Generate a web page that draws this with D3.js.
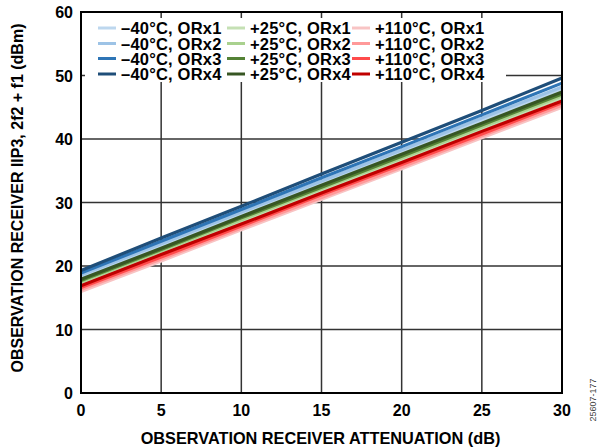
<!DOCTYPE html>
<html>
<head>
<meta charset="utf-8">
<script src="https://cdn.jsdelivr.net/npm/d3@7"></script>
<style>
  body { margin: 0; background: #fff; }
  text { font-family: "Liberation Sans", Arial, sans-serif; }
</style>
</head>
<body>
<div id="chart"></div>
<script>
// attenuation steps (dB)
const attenuation = [0, 5, 10, 15, 20, 25, 30];

// IIP3 values (dBm)
const seriesNames = [
    "–40°C, ORx1", "–40°C, ORx2", "–40°C, ORx3", "–40°C, ORx4",
    "+25°C, ORx1", "+25°C, ORx2", "+25°C, ORx3", "+25°C, ORx4",
    "+110°C, ORx1", "+110°C, ORx2", "+110°C, ORx3", "+110°C, ORx4"
];
const seriesColors = [
    "#bdd7ee", "#9dc3e6", "#2e75b6", "#1f4e79",
    "#c5e0b4", "#a9d18e", "#548235", "#375623",
    "#f8c4c4", "#ff9999", "#ff4b4b", "#c00000"
];
const m40_orx1 = [18.3, 23.2, 28.1, 33.0, 37.9, 42.9, 47.8];
const m40_orx2 = [18.6, 23.5, 28.5, 33.4, 38.3, 43.3, 48.2];
const m40_orx3 = [18.9, 23.9, 28.9, 33.9, 38.8, 43.8, 48.8];
const m40_orx4 = [19.3, 24.4, 29.4, 34.5, 39.5, 44.5, 49.6];
const p25_orx1 = [17.3, 22.2, 27.0, 31.9, 36.7, 41.6, 46.5];
const p25_orx2 = [17.5, 22.4, 27.3, 32.2, 37.0, 41.9, 46.8];
const p25_orx3 = [17.7, 22.6, 27.6, 32.4, 37.3, 42.2, 47.1];
const p25_orx4 = [17.9, 22.8, 27.8, 32.7, 37.6, 42.5, 47.4];
const p110_orx1 = [16.0, 20.8, 25.7, 30.5, 35.3, 40.2, 45.0];
const p110_orx2 = [16.3, 21.1, 26.0, 30.8, 35.6, 40.5, 45.3];
const p110_orx3 = [16.6, 21.4, 26.3, 31.2, 36.0, 40.8, 45.7];
const p110_orx4 = [16.9, 21.8, 26.6, 31.5, 36.3, 41.2, 46.0];
const seriesValues = [
    m40_orx1, m40_orx2, m40_orx3, m40_orx4,
    p25_orx1, p25_orx2, p25_orx3, p25_orx4,
    p110_orx1, p110_orx2, p110_orx3, p110_orx4
];

const xTicks = [0, 5, 10, 15, 20, 25, 30];
const yTicks = [0, 10, 20, 30, 40, 50, 60];

const width = 600, height = 448;
const margin = {left: 81, right: 38, top: 12, bottom: 55};

const svg = d3.select("#chart").append("svg")
    .attr("width", width)
    .attr("height", height);

const x = d3.scaleLinear().domain([0, 30]).range([margin.left, width - margin.right]);
const y = d3.scaleLinear().domain([0, 60]).range([height - margin.bottom, margin.top]);

// grid
const grid = svg.append("g").attr("stroke", "#333").attr("stroke-width", 1.5);
grid.selectAll("line.v")
    .data(xTicks.slice(1, -1))
    .join("line")
    .attr("x1", d => x(d)).attr("x2", d => x(d))
    .attr("y1", y(0)).attr("y2", y(60));
grid.selectAll("line.h")
    .data(yTicks.slice(1, -1))
    .join("line")
    .attr("x1", x(0)).attr("x2", x(30))
    .attr("y1", d => y(d)).attr("y2", d => y(d));

// legend background covers grid
svg.append("rect")
    .attr("x", 85).attr("y", 18)
    .attr("width", 421).attr("height", 64)
    .attr("fill", "#fff");

// lines
const line = d3.line()
    .x((d, i) => x(attenuation[i]))
    .y(d => y(d));

svg.append("g")
    .selectAll("path")
    .data(seriesValues)
    .join("path")
    .attr("fill", "none")
    .attr("stroke", (d, i) => seriesColors[i])
    .attr("stroke-width", 3.2)
    .attr("d", line);

// frame
svg.append("rect")
    .attr("x", x(0)).attr("y", y(60))
    .attr("width", x(30) - x(0)).attr("height", y(0) - y(60))
    .attr("fill", "none")
    .attr("stroke", "#000")
    .attr("stroke-width", 2);

// tick labels
svg.append("g")
    .selectAll("text")
    .data(xTicks)
    .join("text")
    .attr("x", d => x(d))
    .attr("y", y(0) + 23)
    .attr("text-anchor", "middle")
    .style("font-size", "16px")
    .style("font-weight", "bold")
    .text(d => d);

svg.append("g")
    .selectAll("text")
    .data(yTicks)
    .join("text")
    .attr("x", x(0) - 8)
    .attr("y", d => y(d) + 6)
    .attr("text-anchor", "end")
    .style("font-size", "16px")
    .style("font-weight", "bold")
    .text(d => d);

// axis titles
svg.append("text")
    .attr("x", (x(0) + x(30)) / 2 - 1)
    .attr("y", 444)
    .attr("text-anchor", "middle")
    .style("font-size", "16.3px")
    .style("font-weight", "bold")
    .text("OBSERVATION RECEIVER ATTENUATION (dB)");

svg.append("text")
    .attr("transform", `translate(23, 198) rotate(-90)`)
    .attr("text-anchor", "middle")
    .style("font-size", "16px")
    .style("font-weight", "bold")
    .text("OBSERVATION RECEIVER IIP3, 2f2 + f1 (dBm)");

// legend
const legendCols = [98, 227, 352];
const legendRows = [28, 43.5, 58.5, 74];
const legend = svg.append("g")
    .selectAll("g")
    .data(seriesNames)
    .join("g")
    .attr("transform", (d, i) => `translate(${legendCols[Math.floor(i / 4)]}, ${legendRows[i % 4]})`);

legend.append("line")
    .attr("x1", 0).attr("x2", 18)
    .attr("stroke", (d, i) => seriesColors[i])
    .attr("stroke-width", 3);

legend.append("text")
    .attr("x", 23)
    .attr("y", 6)
    .style("font-size", "16.5px")
    .style("font-weight", "bold")
    .style("letter-spacing", "0.2px")
    .text(d => d);

// figure number
svg.append("text")
    .attr("transform", "translate(596, 400) rotate(-90)")
    .attr("text-anchor", "middle")
    .style("font-size", "9px")
    .attr("fill", "#444")
    .text("25607-177");
</script>
</body>
</html>
